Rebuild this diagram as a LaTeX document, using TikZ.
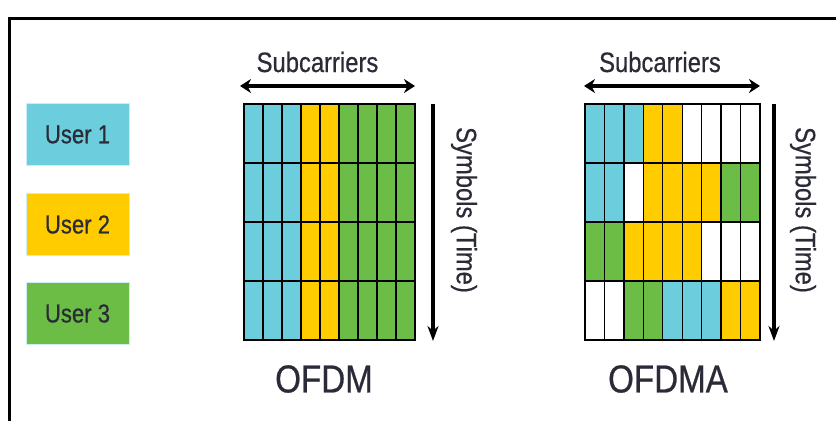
\documentclass[tikz,border=0pt]{standalone}
\usepackage{fontspec}
\setmainfont{Liberation Sans}[FakeStretch=0.85,FakeBold=0.6]
\usepackage{tikz}
\usetikzlibrary{arrows.meta,positioning}
\definecolor{OfdBlue}{HTML}{6CCDDD}
\definecolor{OfdGold}{HTML}{FFCC00}
\definecolor{OfdGreen}{HTML}{6BBD45}
\definecolor{OfdText}{HTML}{2B2B38}
\definecolor{OfdEdge}{HTML}{CDEDF2}
% one colour per cell letter
\colorlet{cellB}{OfdBlue}
\colorlet{cellY}{OfdGold}
\colorlet{cellG}{OfdGreen}
\colorlet{cellW}{white}
\tikzset{
  userbox/.style={draw=OfdEdge,line width=1pt,minimum width=103pt,minimum height=62pt,inner sep=0pt,text=OfdText,font=\fontsize{26}{28}\selectfont},
  axislabel/.style={inner sep=0pt,text=OfdText,font=\fontsize{28}{30}\selectfont},
  titlelabel/.style={inner sep=0pt,text=OfdText,font=\fontsize{39}{42}\selectfont},
  bothways/.style={{Stealth[length=11pt,width=14pt]}-{Stealth[length=11pt,width=14pt]},line width=3.2pt},
  downarrow/.style={-{Stealth[length=15pt,width=11pt]},line width=3.2pt},
  cellline/.style={line width=1.4pt},
  midline/.style={line width=2.8pt},
  frameline/.style={line width=3pt}
}
\begin{document}
\begin{tikzpicture}[x=1pt,y=-1pt]
\useasboundingbox (0,0) rectangle (836,421);
\draw[frameline] (836,18) -- (9,18) -- (9,421);

% legend
\node[userbox,fill=OfdBlue] (u1) at (77.5,134.5) {User 1};
\node[userbox,fill=OfdGold,below=27pt of u1] (u2) {User 2};
\node[userbox,fill=OfdGreen,below=26pt of u2] (u3) {User 3};

% OFDM grid
\begin{scope}[shift={(244,104)}]
\def\cw{19}
\foreach \row [count=\r from 0] in {{B,B,B,Y,Y,G,G,G,G},{B,B,B,Y,Y,G,G,G,G},{B,B,B,Y,Y,G,G,G,G},{B,B,B,Y,Y,G,G,G,G}}
  \foreach \c [count=\k from 0] in \row
    \fill[cell\c] (\k*\cw,\r*59) rectangle ++(\cw,59);
\foreach \k in {1,...,8}
  \draw[cellline] (\k*\cw,0) -- (\k*\cw,236);
\draw[cellline] (0,59) -- (9*\cw,59) (0,177) -- (9*\cw,177);
\draw[midline] (0,118) -- (9*\cw,118);
\draw[cellline] (0,0) rectangle (9*\cw,236);
\end{scope}
\coordinate (a1l) at (240,86);
\coordinate (a1r) at (415,86);
\coordinate (t1t) at (433,104);
\coordinate (t1b) at (433,341);
\draw[bothways] (a1l) -- (a1r);
\draw[downarrow] (t1t) -- (t1b);
\node[axislabel,anchor=base] (sc1) at (317.5,72) {Subcarriers};
\node[axislabel,rotate=-90] (sy1) at (464,210) {Symbols (Time)};
\node[titlelabel] (ofdm) at (324,379) {OFDM};

% OFDMA grid
\begin{scope}[shift={(585,104)}]
\def\cw{19.44}
\foreach \row [count=\r from 0] in {{B,B,B,Y,Y,W,W,W,W},{B,B,W,Y,Y,Y,Y,G,G},{G,G,Y,Y,Y,Y,W,W,W},{W,W,G,G,B,B,B,Y,Y}}
  \foreach \c [count=\k from 0] in \row
    \fill[cell\c] (\k*\cw,\r*59) rectangle ++(\cw,59);
\foreach \k in {1,...,8}
  \draw[cellline] (\k*\cw,0) -- (\k*\cw,236);
\draw[cellline] (0,59) -- (9*\cw,59) (0,177) -- (9*\cw,177);
\draw[midline] (0,118) -- (9*\cw,118);
\draw[cellline] (0,0) rectangle (9*\cw,236);
\end{scope}
\coordinate (a2l) at (584,86);
\coordinate (a2r) at (760,86);
\coordinate (t2t) at (774,104);
\coordinate (t2b) at (774,341);
\draw[bothways] (a2l) -- (a2r);
\draw[downarrow] (t2t) -- (t2b);
\node[axislabel,anchor=base] (sc2) at (660,72) {Subcarriers};
\node[axislabel,rotate=-90] (sy2) at (803,210) {Symbols (Time)};
\node[titlelabel] (ofdma) at (668,379) {OFDMA};
\end{tikzpicture}
\end{document}
